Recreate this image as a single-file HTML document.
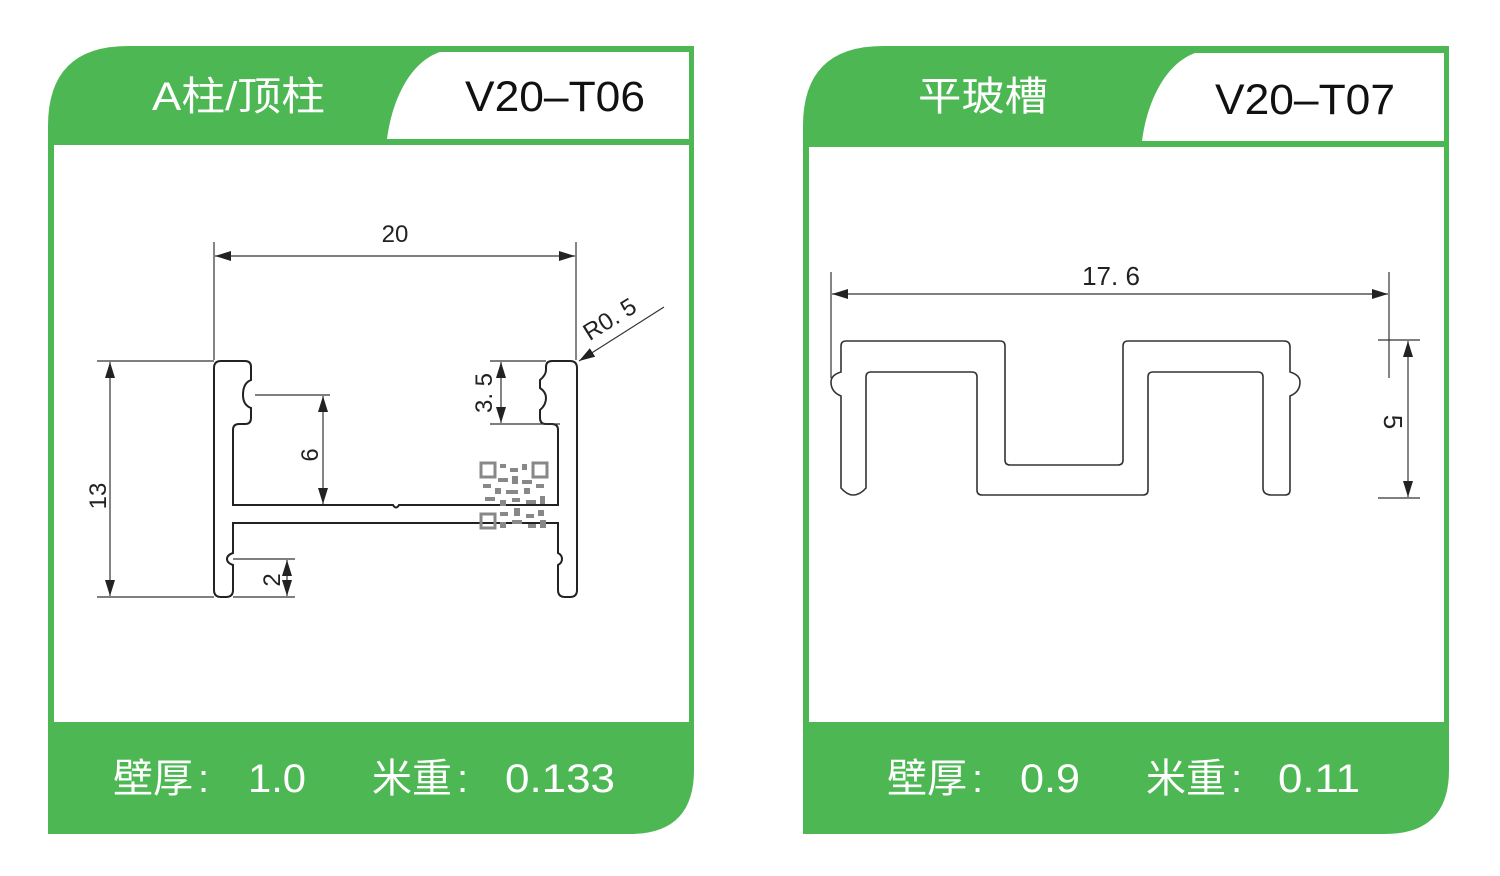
<!DOCTYPE html>
<html><head><meta charset="utf-8"><style>
html,body{margin:0;padding:0;background:#fff;}
svg{display:block;}
text{font-family:"Liberation Sans","Noto Sans CJK SC",sans-serif;}
</style></head><body>
<svg width="1500" height="876" viewBox="0 0 1500 876" xmlns="http://www.w3.org/2000/svg">
<defs>
<marker id="a" viewBox="0 0 16 10" refX="16" refY="5" markerWidth="16" markerHeight="10" markerUnits="userSpaceOnUse" orient="auto-start-reverse"><path d="M0,0 L16,5 L0,10 Z" fill="#222"/></marker>
</defs>
<!-- LEFT PANEL -->
<path d="M48,126 Q48,46 128,46 L694,46 L694,770 Q694,834 630,834 L48,834 Z" fill="#4db853"/>
<rect x="54" y="145" width="635" height="577" fill="#fff"/>
<path d="M387,139 C392,100 410,62 440,52 L689,52 L689,139 Z" fill="#fff"/>
<text x="152" y="110" font-size="40" fill="#fff" textLength="173" lengthAdjust="spacingAndGlyphs">A柱/顶柱</text>
<text x="465" y="111" font-size="43" fill="#111" textLength="180" lengthAdjust="spacingAndGlyphs">V20–T06</text>
<g font-size="40" fill="#fff">
<text x="113" y="792">壁厚</text><text x="198" y="792">:</text>
<text x="248" y="792" textLength="58" lengthAdjust="spacingAndGlyphs">1.0</text>
<text x="372" y="792">米重</text><text x="457" y="792">:</text>
<text x="505" y="792" textLength="110" lengthAdjust="spacingAndGlyphs">0.133</text>
</g>

<!-- RIGHT PANEL -->
<path d="M803,126 Q803,46 883,46 L1449,46 L1449,770 Q1449,834 1385,834 L803,834 Z" fill="#4db853"/>
<rect x="809" y="147" width="635" height="575" fill="#fff"/>
<path d="M1142,141 C1147,102 1165,64 1195,53 L1444,53 L1444,141 Z" fill="#fff"/>
<text x="918" y="110" font-size="40" fill="#fff" textLength="130" lengthAdjust="spacingAndGlyphs">平玻槽</text>
<text x="1215" y="114" font-size="43" fill="#111" textLength="180" lengthAdjust="spacingAndGlyphs">V20–T07</text>
<g font-size="40" fill="#fff">
<text x="887" y="792">壁厚</text><text x="972" y="792">:</text>
<text x="1020" y="792" textLength="60" lengthAdjust="spacingAndGlyphs">0.9</text>
<text x="1146" y="792">米重</text><text x="1231" y="792">:</text>
<text x="1278" y="792" textLength="82" lengthAdjust="spacingAndGlyphs">0.11</text>
</g>

<!-- LEFT DRAWING -->
<g fill="none" stroke="#222" stroke-width="2">
<path d="M221,361 L245,361 Q251,361 251,367 L251,380 Q243,383 243,395 Q243,405 251,408 L251,418 Q251,424 245,424 L239,424 Q233,424 233,430 L233,505 L393,505 Q396,510 399,505 L558,505 L558,430 Q558,424 552,424 L546,424 Q540,424 540,418 L540,410 Q546,405 546,398 Q546,392 540,388 L540,380 Q546,375 546,370 L546,367 Q546,361 552,361 L570,361 Q577,361 577,368 L577,590 Q577,597 570,597 L565,597 Q558,597 558,590 L558,565 Q562,563 562,559 Q562,555 558,553 L558,523 L233,523 L233,553 Q227,555 227,559 Q227,563 233,565 L233,590 Q233,597 226,597 L221,597 Q214,597 214,590 L214,368 Q214,361 221,361 Z"/>
</g>
<g stroke="#333" stroke-width="1.2" fill="none">
<line x1="214" y1="242" x2="214" y2="360"/>
<line x1="576" y1="242" x2="576" y2="360"/>
<line x1="215" y1="256" x2="575" y2="256" marker-start="url(#a)" marker-end="url(#a)"/>
<line x1="97" y1="361" x2="214" y2="361"/>
<line x1="97" y1="597" x2="214" y2="597"/>
<line x1="110" y1="362" x2="110" y2="596" marker-start="url(#a)" marker-end="url(#a)"/>
<line x1="255" y1="395" x2="330" y2="395"/>
<line x1="323" y1="396" x2="323" y2="504" marker-start="url(#a)" marker-end="url(#a)"/>
<line x1="490" y1="361" x2="546" y2="361"/>
<line x1="490" y1="424" x2="560" y2="424"/>
<line x1="501" y1="362" x2="501" y2="423" marker-start="url(#a)" marker-end="url(#a)"/>
<line x1="233" y1="559" x2="295" y2="559"/>
<line x1="233" y1="597" x2="295" y2="597"/>
<line x1="287" y1="560" x2="287" y2="596" marker-start="url(#a)" marker-end="url(#a)"/>
<line x1="664" y1="307" x2="579" y2="361" marker-end="url(#a)"/>
</g>
<g font-size="24" fill="#222">
<text x="395" y="242" text-anchor="middle">20</text>
<text transform="translate(106,496) rotate(-90)" text-anchor="middle">13</text>
<text transform="translate(318,455) rotate(-90)" text-anchor="middle">6</text>
<text transform="translate(492,393) rotate(-90)" text-anchor="middle">3. 5</text>
<text transform="translate(280,580) rotate(-90)" text-anchor="middle">2</text>
<text transform="translate(614,326) rotate(-32)" text-anchor="middle">R0. 5</text>
</g>
<!-- QR -->
<g fill="#888">
<rect x="481" y="463" width="14" height="14" fill="none" stroke="#888" stroke-width="3"/>
<rect x="533" y="463" width="14" height="14" fill="none" stroke="#888" stroke-width="3"/>
<rect x="481" y="514" width="14" height="14" fill="none" stroke="#888" stroke-width="3"/>
<rect x="500" y="464" width="6" height="4"/><rect x="510" y="468" width="8" height="4"/><rect x="522" y="464" width="5" height="6"/>
<rect x="498" y="478" width="10" height="4"/><rect x="512" y="476" width="6" height="8"/><rect x="522" y="480" width="10" height="4"/>
<rect x="483" y="484" width="8" height="4"/><rect x="495" y="488" width="6" height="6"/><rect x="506" y="490" width="12" height="4"/><rect x="524" y="488" width="6" height="6"/><rect x="536" y="484" width="8" height="4"/>
<rect x="485" y="497" width="10" height="4"/><rect x="500" y="500" width="6" height="6"/><rect x="512" y="498" width="8" height="4"/><rect x="526" y="500" width="10" height="4"/><rect x="540" y="496" width="5" height="8"/>
<rect x="500" y="512" width="8" height="4"/><rect x="514" y="508" width="6" height="8"/><rect x="526" y="514" width="8" height="4"/><rect x="538" y="510" width="6" height="6"/>
<rect x="500" y="522" width="6" height="6"/><rect x="512" y="520" width="10" height="4"/><rect x="528" y="524" width="8" height="4"/><rect x="540" y="520" width="6" height="8"/>
</g>

<!-- RIGHT DRAWING -->
<g fill="none" stroke="#333" stroke-width="1.6">
<path d="M846,341 L1000,341 Q1005,341 1005,346 L1005,460 Q1005,465 1010,465 L1118,465 Q1123,465 1123,460 L1123,346 Q1123,341 1128,341 L1284,341 Q1290,341 1290,347 L1290,372 Q1300,375 1300,382 Q1300,392 1290,396 L1290,490 Q1290,495 1285,495 L1272,495 Q1263,495 1263,488 L1263,377 Q1263,372 1258,372 L1153,372 Q1148,372 1148,377 L1148,490 Q1148,495 1143,495 L982,495 Q977,495 977,490 L977,377 Q977,372 972,372 L871,372 Q866,372 866,377 L866,488 Q860,495 853,495 Q847,495 841,488 L841,396 Q831,392 831,382 Q831,375 841,372 L841,346 Q841,341 846,341 Z"/>
</g>
<g stroke="#333" stroke-width="1.2" fill="none">
<line x1="831" y1="272" x2="831" y2="378"/>
<line x1="1389" y1="272" x2="1389" y2="378"/>
<line x1="832" y1="294" x2="1388" y2="294" marker-start="url(#a)" marker-end="url(#a)"/>
<line x1="1378" y1="340" x2="1420" y2="340"/>
<line x1="1378" y1="498" x2="1420" y2="498"/>
<line x1="1408" y1="341" x2="1408" y2="497" marker-start="url(#a)" marker-end="url(#a)"/>
</g>
<g font-size="26" fill="#222">
<text x="1111" y="285" text-anchor="middle">17. 6</text>
<text transform="translate(1384,422) rotate(90)" text-anchor="middle">5</text>
</g>
</svg>
</body></html>
